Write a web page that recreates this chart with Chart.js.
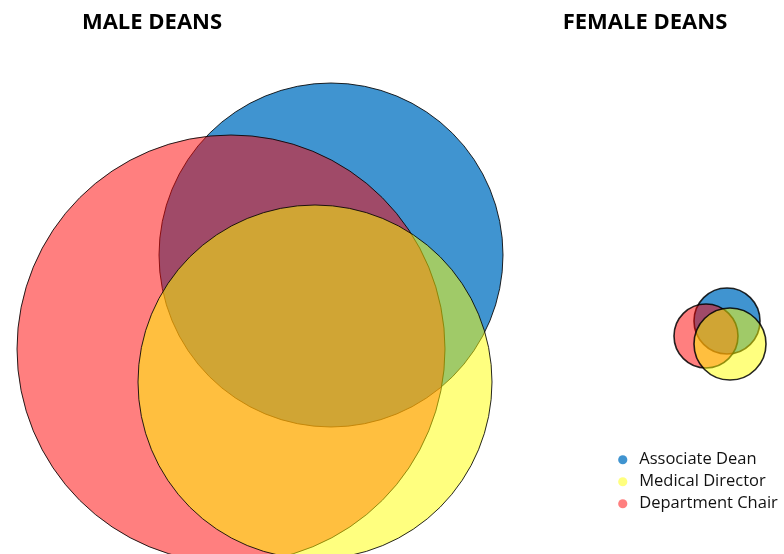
<!DOCTYPE html>
<html>
<head>
<meta charset="utf-8">
<script src="https://cdn.jsdelivr.net/npm/chart.js@4.4.1/dist/chart.umd.min.js"></script>
<style>
  html, body { margin: 0; padding: 0; background: #fff; }
  #wrap { width: 784px; height: 554px; position: relative; }
</style>
</head>
<body>
<div id="wrap"><canvas id="deansChart"></canvas></div>
<script>
// Gruppen (linke und rechte Blasengruppe)
const groups = ['MALE DEANS', 'FEMALE DEANS'];

// Position und Radius jeder Blase
const associateDeanX = [331, 727];
const associateDeanY = [255, 321];
const associateDeanR = [172, 33];

const medicalDirectorX = [315, 730];
const medicalDirectorY = [382, 344];
const medicalDirectorR = [177, 36];

const departmentChairX = [231, 706];
const departmentChairY = [349, 336];
const departmentChairR = [214, 32];

// Wo die Gruppentitel stehen
const titleX = [152, 645];

function toPoints(xs, ys, rs) {
    return xs.map((x, i) => ({ x: x, y: ys[i], r: rs[i] }));
}

// Titel ueber den Gruppen
const groupTitles = {
    id: 'groupTitles',
    afterDraw(chart) {
        const ctx = chart.ctx;
        ctx.save();
        ctx.font = 'bold 22px "Open Sans"';
        ctx.fillStyle = '#000';
        ctx.textAlign = 'center';
        ctx.textBaseline = 'alphabetic';
        groups.forEach((g, i) => ctx.fillText(g, titleX[i], 29));
        ctx.restore();
    }
};

// Legende unten rechts platzieren
const legendSpot = {
    id: 'legendSpot',
    afterLayout(chart) {
        const legend = chart.legend;
        legend.left = 609;
        legend.right = 784;
        legend.top = 446;
        legend.bottom = 554;
        legend.width = legend.right - legend.left;
        legend.height = legend.bottom - legend.top;
    }
};

const ctx = document.getElementById('deansChart').getContext('2d');
new Chart(ctx, {
    type: 'bubble',
    data: {
        datasets: [{
            label: 'Associate Dean',
            data: toPoints(associateDeanX, associateDeanY, associateDeanR),
            backgroundColor: 'rgba(0, 112, 192, 0.75)',
            borderColor: 'rgba(0, 0, 0, 0.85)',
            borderWidth: [1, 1.6],
            order: 3
        }, {
            label: 'Medical Director',
            data: toPoints(medicalDirectorX, medicalDirectorY, medicalDirectorR),
            backgroundColor: 'rgba(255, 255, 0, 0.5)',
            borderColor: 'rgba(0, 0, 0, 0.85)',
            borderWidth: [1, 1.6],
            order: 1
        }, {
            label: 'Department Chair',
            data: toPoints(departmentChairX, departmentChairY, departmentChairR),
            backgroundColor: 'rgba(255, 0, 0, 0.5)',
            borderColor: 'rgba(0, 0, 0, 0.85)',
            borderWidth: [1, 1.6],
            order: 2
        }]
    },
    options: {
        responsive: true,
        maintainAspectRatio: false,
        animation: false,
        events: [],
        layout: { padding: 0, autoPadding: false },
        scales: {
            x: { type: 'linear', min: 0, max: 784, display: false },
            y: { type: 'linear', min: 0, max: 554, reverse: true, display: false }
        },
        plugins: {
            tooltip: { enabled: false },
            legend: {
                position: 'chartArea',
                align: 'start',
                labels: {
                    usePointStyle: true,
                    pointStyle: 'circle',
                    boxWidth: 16.5,
                    boxHeight: 6.5,
                    padding: 5.5,
                    color: '#111',
                    font: { family: '"Open Sans"', size: 16.5 },
                    sort: (a, b) => a.datasetIndex - b.datasetIndex,
                    generateLabels: chart =>
                        Chart.defaults.plugins.legend.labels.generateLabels(chart)
                            .map(item => ({ ...item, lineWidth: 0, strokeStyle: 'rgba(0,0,0,0)' }))
                }
            }
        }
    },
    plugins: [groupTitles, legendSpot]
});
</script>
</body>
</html>
